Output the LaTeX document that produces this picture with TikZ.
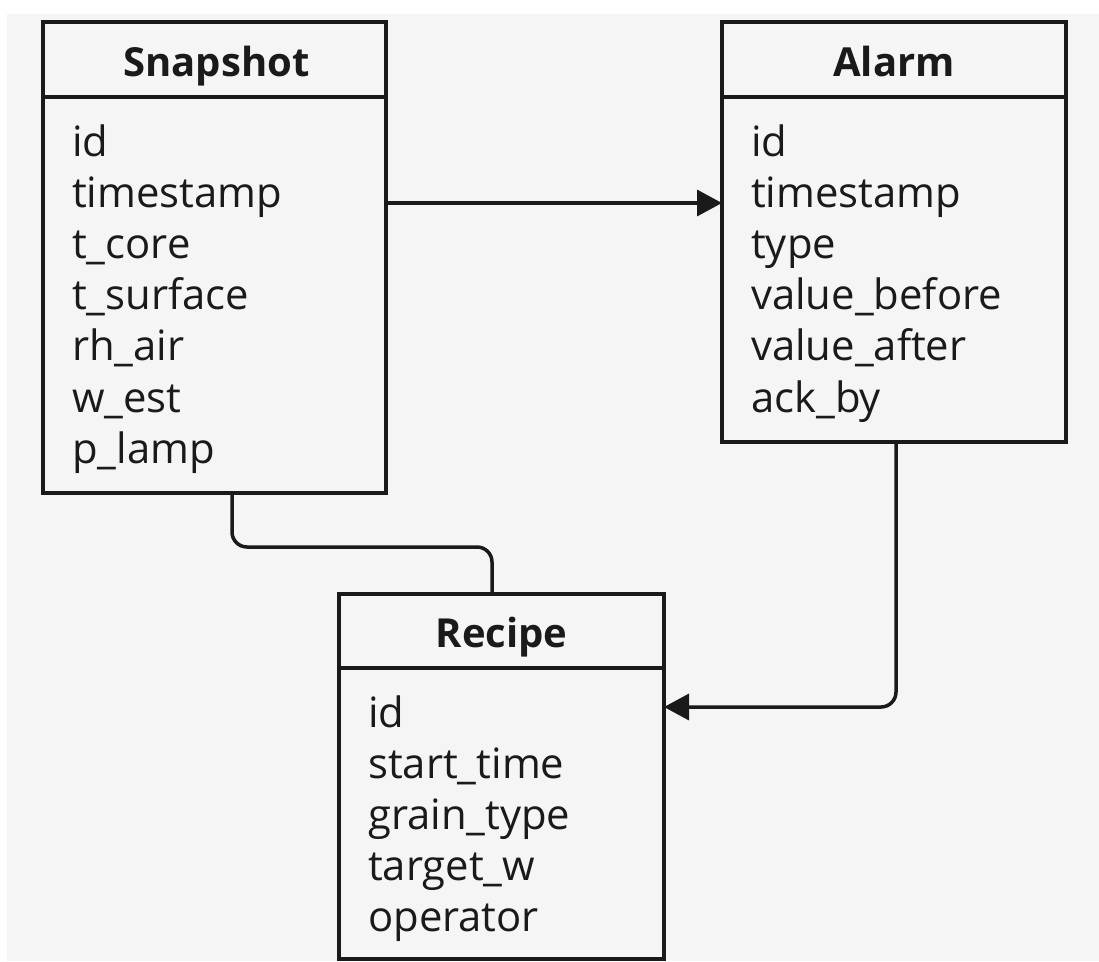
\documentclass[tikz,border=0pt]{standalone}
\usepackage{fontspec}
\setmainfont{Open Sans}
\usetikzlibrary{arrows.meta}
\definecolor{bg}{HTML}{F5F5F5}
\definecolor{ink}{HTML}{1A1A1A}
\tikzset{
  box/.style={draw=ink, line width=3.5pt, rectangle, inner sep=0pt, outer sep=0pt, anchor=north west},
  sep/.style={draw=ink, line width=3.5pt},
  title/.style={font=\fontsize{40}{42}\selectfont\bfseries, text=ink, inner sep=0pt, anchor=base},
  field/.style={font=\fontsize{41.8}{48}\selectfont, text=ink, inner sep=0pt, anchor=base west},
  link/.style={draw=ink, line width=3.5pt, rounded corners=15pt},
  arrow/.style={link, -{Triangle[length=25pt, width=26pt]}}
}
\begin{document}
\begin{tikzpicture}[x=1pt, y=-1pt]
\useasboundingbox (0,0) rectangle (1099,961);
\fill[bg] (7,14) rectangle (1099,961);
% boxes
\node[box, minimum width=343pt, minimum height=471pt] (snap) at (43,22) {};
\node[box, minimum width=344pt, minimum height=420pt] (alarm) at (722,22) {};
\node[box, minimum width=325pt, minimum height=365pt] (recipe) at (339,594) {};
% header separators
\draw[sep] ([yshift=-75pt]snap.north west) -- ([yshift=-75pt]snap.north east);
\draw[sep] ([yshift=-75pt]alarm.north west) -- ([yshift=-75pt]alarm.north east);
\draw[sep] ([yshift=-74pt]recipe.north west) -- ([yshift=-74pt]recipe.north east);
% titles
\node[title] (snapT) at ([xshift=2pt, yshift=-54pt]snap.north) {Snapshot};
\node[title] (alarmT) at ([yshift=-54pt]alarm.north) {Alarm};
\node[title] (recipeT) at ([yshift=-53pt]recipe.north) {Recipe};
% fields
\foreach \t [count=\i] in {id,timestamp,t\_core,t\_surface,rh\_air,w\_est,p\_lamp}
  \node[field] (snap-\i) at ([xshift=29pt, yshift={-82.8pt-51.2pt*\i}]snap.north west) {\t};
\foreach \t [count=\i] in {id,timestamp,type,value\_before,value\_after,ack\_by}
  \node[field] (alarm-\i) at ([xshift=29pt, yshift={-82.8pt-51.2pt*\i}]alarm.north west) {\t};
\foreach \t [count=\i] in {id,start\_time,grain\_type,target\_w,operator}
  \node[field] (recipe-\i) at ([xshift=29pt, yshift={-81.8pt-51.2pt*\i}]recipe.north west) {\t};
% connectors
\draw[arrow] (snap.east |- 0,203) -- (alarm.west |- 0,203);
\draw[link] (snap.south -| 232,0) -- (232,547) -- (492,547) -- (recipe.north -| 492,0);
\draw[arrow] (alarm.south -| 896,0) -- (896,707) -- (recipe.east |- 0,707);
\end{tikzpicture}
\end{document}
